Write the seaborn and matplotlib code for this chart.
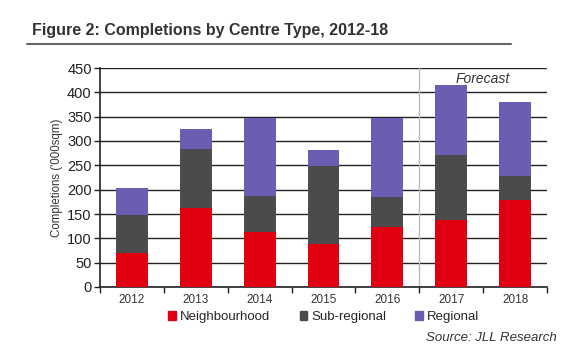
import matplotlib
matplotlib.use("Agg")
import matplotlib.pyplot as plt
import seaborn as sns
import numpy as np
import pandas as pd
from matplotlib.patches import Patch
from matplotlib.lines import Line2D

years = ["2012", "2013", "2014", "2015", "2016", "2017", "2018"]
neighbourhood = [70, 162, 114, 89, 124, 138, 178]
sub_regional = [78, 121, 72, 160, 60, 134, 51]
regional = [56, 42, 162, 32, 163, 144, 152]
yticks = [0, 50, 100, 150, 200, 250, 300, 350, 400, 450]

c_red = "#E0000F"
c_grey = "#4B4B4D"
c_purple = "#6A5DB2"

sns.set_theme(style="white")
plt.rcParams['font.family'] = ['Liberation Sans', 'DejaVu Sans']

df = pd.DataFrame({
    "year": years,
    "n": neighbourhood,
    "ns": np.array(neighbourhood) + np.array(sub_regional),
    "total": np.array(neighbourhood) + np.array(sub_regional) + np.array(regional),
})

fig = plt.figure(figsize=(5.8, 3.52), dpi=100)
ax = fig.add_axes([100/580, 1-287/352, 447/580, 219/352])

for col, c in [("total", c_purple), ("ns", c_grey), ("n", c_red)]:
    sns.barplot(data=df, x="year", y=col, color=c, width=0.5, ax=ax,
                saturation=1, edgecolor="none", linewidth=0, zorder=3)

ax.set_ylim(0, 450)
ax.set_xlim(-0.5, 6.5)
ax.set_yticks(yticks)
ax.set_yticklabels([str(v) for v in yticks], fontsize=10.5, color="#222222")
ax.yaxis.grid(True, color="#222222", linewidth=1.0, zorder=0)
ax.set_axisbelow(True)
ax.set_xticks(range(7))
ax.set_xticklabels(years, fontsize=8.5, color="#333333")
ax.tick_params(axis="x", length=0, pad=5)
ax.tick_params(axis="y", length=4, width=1, color="#222222", direction="out", left=True, pad=2)
ax.set_xticks(np.arange(-0.5, 7, 1), minor=True)
ax.tick_params(axis="x", which="minor", length=4, width=1, color="#222222", direction="out", bottom=True)
for s in ["top", "right"]:
    ax.spines[s].set_visible(False)
ax.spines["left"].set_color("#222222")
ax.spines["bottom"].set_color("#222222")
ax.spines["left"].set_linewidth(1.2)
ax.spines["bottom"].set_linewidth(1.2)
ax.set_xlabel("")
ax.set_ylabel("Completions ('000sqm)", fontsize=8.3, color="#333333", labelpad=3)

ax.axvline(4.5, color="#bbbbbb", linewidth=1.0, zorder=2)
ax.text(5.5, 428, "Forecast", ha="center", va="center", fontsize=10, style="italic", color="#333333")

fig.text(32/580, 1-30/352, "Figure 2: Completions by Centre Type, 2012-18", fontsize=11.5,
         fontweight="bold", color="#333333", ha="left", va="center")
fig.add_artist(Line2D([27/580, 511/580], [1-44/352, 1-44/352], color="#666666", linewidth=1.5))

handles = [Patch(color=c_red, label="Neighbourhood"),
           Patch(color=c_grey, label="Sub-regional"),
           Patch(color=c_purple, label="Regional")]
fig.legend(handles=handles, loc="center", bbox_to_anchor=(324/580, 1-317/352), ncol=3,
           frameon=False, fontsize=9.5, handlelength=0.6, handleheight=0.6, handletextpad=0.3,
           columnspacing=2.2)
fig.text(557/580, 1-338/352, "Source: JLL Research", fontsize=9.5, style="italic",
         color="#333333", ha="right", va="center")

fig.savefig("out.png", dpi=100)
